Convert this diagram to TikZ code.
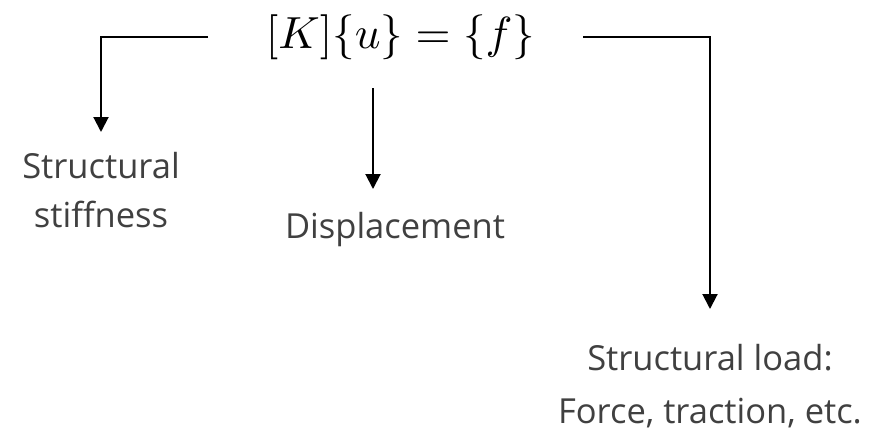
\documentclass[tikz,border=0pt]{standalone}
\usepackage{fontspec}
\newfontfamily\osans{Open Sans}
\usetikzlibrary{arrows.meta}
\definecolor{txtgray}{HTML}{404040}
\begin{document}
\begin{tikzpicture}[x=1pt,y=-1pt,
  lbl/.style={text=txtgray, font=\osans\fontsize{34.5}{49}\selectfont, inner sep=0pt, align=center},
  conn/.style={line width=2pt, -{Triangle[width=15pt,length=15pt]}}]
\useasboundingbox (0,0) rectangle (877,442);
\node[inner sep=0pt, anchor=base, scale=4.5] (eq) at (400.5,48) {$[K]\{u\}=\{f\}$};
\node[lbl, anchor=base] (stiff) at (101,227) {Structural\\stiffness};
\node[lbl, anchor=base] (disp) at (395,238) {Displacement};
\node[lbl, anchor=base, font=\osans\fontsize{34.5}{53}\selectfont] (load) at (710,423) {Structural load:\\Force, traction, etc.};
\coordinate (lA) at (208,37);
\coordinate (lT) at (101,132);
\coordinate (mA) at (373,88);
\coordinate (mT) at (373,189);
\coordinate (rA) at (583,37);
\coordinate (rT) at (710,309);
\draw[conn] (lA) -| (lT);
\draw[conn] (mA) -- (mT);
\draw[conn] (rA) -| (rT);
\end{tikzpicture}
\end{document}
